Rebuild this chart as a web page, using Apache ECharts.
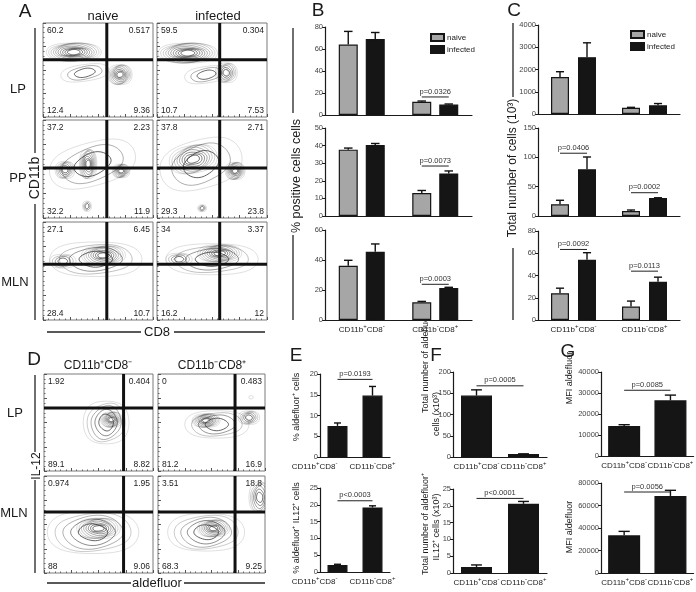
<!DOCTYPE html>
<html><head><meta charset="utf-8">
<script src="https://cdn.jsdelivr.net/npm/echarts@6/dist/echarts.min.js"></script>
<style>html,body{margin:0;padding:0;background:#fff}#c{width:696px;height:592px}</style>
</head><body><div id="c"></div>
<script>
const FONT = '"Liberation Sans", Arial, sans-serif';
// ================= DATA =================
const groups = ['CD11b⁺CD8⁻', 'CD11b⁻CD8⁺'];
const seriesNames = ['naive', 'infected'];
// Panel B: % positive cells (mean, SEM)
const bLP_naive = [64, 12],    bLP_naiveSem = [12, 0.7],  bLP_inf = [69, 9.5],    bLP_infSem = [6, 0.5];
const bPP_naive = [37.7, 13],  bPP_naiveSem = [0.9, 1.5], bPP_inf = [40.3, 24.2], bPP_infSem = [0.9, 1.4];
const bMLN_naive = [36.2, 11.8], bMLN_naiveSem = [3.6, 0.6], bMLN_inf = [45.5, 21.3], bMLN_infSem = [5.2, 0.5];
// Panel C: total number of cells (10^3)
const cLP_naive = [1660, 280], cLP_naiveSem = [240, 20], cLP_inf = [2550, 390], cLP_infSem = [650, 80];
const cPP_naive = [20, 8.5],   cPP_naiveSem = [6.8, 1.7], cPP_inf = [79.6, 30.5], cPP_infSem = [21, 0.6];
const cMLN_naive = [24.1, 12.2], cMLN_naiveSem = [4.5, 4.8], cMLN_inf = [54.2, 34.4], cMLN_infSem = [6.3, 4.1];
// Panel E: % aldefluor+ cells
const eAld = [7.5, 14.8],  eAldSem = [0.7, 2.2];
const eAldIL12 = [2.1, 19.2], eAldIL12Sem = [0.2, 0.5];
// Panel F: total number of aldefluor+ cells (x10^3)
const fAld = [144.5, 7], fAldSem = [13.5, 0.5];
const fAldIL12 = [1.8, 20.6], fAldIL12Sem = [0.6, 0.7];
// Panel G: MFI aldefluor
const gLP = [14300, 26500], gLPSem = [600, 2500];
const gMLN = [33500, 68500], gMLNSem = [3500, 5000];
// p-value annotations: [category, y-value]
const pB_LP = [[1, 16.4]], pB_LPText = ['p=0.0326'];
const pB_PP = [[1, 28.4]], pB_PPText = ['p=0.0073'];
const pB_MLN = [[1, 23.8]], pB_MLNText = ['p=0.0003'];
const pC_PP = [[0, 107], [1, 39.7]], pC_PPText = ['p=0.0406', 'p=0.0002'];
const pC_MLN = [[0, 63.4], [1, 43.9]], pC_MLNText = ['p=0.0092', 'p=0.0113'];
const pE = [18.7], pEText = ['p=0.0193'];
const pE2 = [21.2], pE2Text = ['p<0.0003'];
const pF = [167.5], pFText = ['p=0.0005'];
const pF2 = [22.2], pF2Text = ['p<0.0001'];
const pG = [31300], pGText = ['p=0.0085'];
const pG2 = [72000], pG2Text = ['p=0.0056'];
// Flow plots (axis 0-100): quadrant percentages [TL, TR, BL, BR]
const flowA_num = [
  ['60.2', '0.517', '12.4', '9.36'], ['59.5', '0.304', '10.7', '7.53'],
  ['37.2', '2.23', '32.2', '11.9'],  ['37.8', '2.71', '29.3', '23.8'],
  ['27.1', '6.45', '28.4', '10.7'],  ['34', '3.37', '16.2', '12']
];
const flowA_gateX = [58, 57];
const flowA_gateY = [61, 51, 57];
const flowD_num = [
  ['1.92', '0.404', '89.1', '8.82'], ['0', '0.483', '81.2', '16.9'],
  ['0.974', '1.95', '88', '9.06'],   ['3.51', '18.8', '68.3', '9.25']
];
const flowD_gateX = [73, 72];
const flowD_gateY = [65, 63];
// populations: [cx, cy, rx, ry, rings, angle]
const flowA_pop = [
  [[28, 69, 25, 11, 10, 0], [38, 47, 22, 10, 3, -8], [70, 45, 11, 12, 8, 0]],
  [[28, 68, 27, 12, 10, 0], [45, 45, 20, 10, 3, -8], [63, 47, 10, 12, 6, 0]],
  [[45, 55, 40, 25, 3, -15], [41, 55, 8, 17, 8, 0], [20, 49, 9, 10, 6, 0], [71, 48, 8, 8, 7, 0], [40, 12, 4, 6, 3, 0]],
  [[40, 55, 38, 28, 3, -15], [33, 60, 22, 16, 8, -10], [71, 48, 9, 10, 8, 0], [41, 10, 4, 4, 3, 0]],
  [[48, 62, 42, 20, 4, 0], [55, 66, 20, 11, 8, 0], [18, 60, 12, 8, 4, 0]],
  [[50, 62, 42, 18, 4, 0], [57, 68, 20, 10, 8, 0], [20, 62, 12, 7, 4, 0]]
];
const flowD_pop = [
  [[57, 50, 21, 25, 5, 0], [62, 53, 10, 9, 8, 0]],
  [[55, 48, 30, 16, 4, 0], [45, 52, 13, 8, 8, 0], [85, 55, 10, 8, 5, 0], [87, 76, 2, 2, 1, 0]],
  [[45, 42, 42, 25, 5, 0], [50, 46, 20, 12, 8, 0]],
  [[45, 42, 36, 22, 5, 0], [52, 46, 15, 10, 8, 0], [95, 78, 10, 18, 6, 0]]
];

// ================= BUILD =================
const option = { animation: false, backgroundColor: '#fff', textStyle: { fontFamily: FONT },
  grid: [], xAxis: [], yAxis: [], series: [], legend: [], graphic: [] };
const AX = '#1a1a1a';
const GRAY = '#a6a6a6';
const supFmt = v => v.replace(/([^⁺⁻]+)([⁺⁻])/g, (m, a, b) => '{b|' + a + '}{s|' + (b === '⁺' ? '+' : '-') + '}');

function barGrid(rect, max, interval, showLabels, lblSize, firstRight) {
  option.grid.push(Object.assign({}, rect));
  const gi = option.grid.length - 1;
  const fs = lblSize || 8;
  const cats = firstRight ? [{ value: groups[0], textStyle: { align: 'right' } }, groups[1]] : groups;
  option.xAxis.push({ gridIndex: gi, type: 'category', data: cats,
    axisLine: { lineStyle: { color: AX, width: 1.2 } },
    axisTick: { alignWithLabel: true, length: 3, lineStyle: { color: AX, width: 1.2 } },
    axisLabel: { show: showLabels, color: '#222', margin: 3, interval: 0, formatter: supFmt,
      rich: { b: { fontSize: fs, fontFamily: FONT, color: '#222', lineHeight: 11, verticalAlign: 'bottom' },
              s: { fontSize: fs - 2, fontFamily: FONT, color: '#222', lineHeight: 11, verticalAlign: 'top' } } } });
  option.yAxis.push({ gridIndex: gi, type: 'value', min: 0, max: max, interval: interval,
    axisLine: { show: true, lineStyle: { color: AX, width: 1.2 } },
    axisTick: { show: true, length: 3, lineStyle: { color: AX, width: 1 } },
    splitLine: { show: false },
    axisLabel: { fontSize: 7.5, color: '#444', margin: 2, fontFamily: FONT, formatter: v => String(v) } });
  return gi;
}
function bars(gi, name, vals, w, gap, color) {
  option.series.push({ type: 'bar', name: name, xAxisIndex: gi, yAxisIndex: gi, data: vals,
    barWidth: w, barGap: gap, z: 2,
    itemStyle: { color: color, borderColor: '#151515', borderWidth: 1.2 } });
}
function errs(gi, vals, sems, off, cap) {
  option.series.push({ type: 'custom', xAxisIndex: gi, yAxisIndex: gi, z: 3, silent: true,
    data: vals.map((v, i) => [i, v, v + sems[i]]),
    renderItem: (p, api) => {
      const a = api.coord([api.value(0), api.value(1)]);
      const b = api.coord([api.value(0), api.value(2)]);
      const x = a[0] + off;
      return { type: 'group', children: [
        { type: 'line', shape: { x1: x, y1: a[1], x2: x, y2: b[1] }, style: { stroke: '#111', lineWidth: 1.4 } },
        { type: 'line', shape: { x1: x - cap / 2, y1: b[1], x2: x + cap / 2, y2: b[1] }, style: { stroke: '#111', lineWidth: 1.4 } }
      ] };
    } });
}
function pAnn(gi, items, texts, mode, half) {
  option.series.push({ type: 'custom', xAxisIndex: gi, yAxisIndex: gi, z: 4, silent: true, clip: false,
    data: items.map(it => mode === 'within' ? [it[0], it[1]] : [0.5, it]),
    renderItem: (p, api) => {
      let x1, x2, y;
      if (mode === 'within') {
        const c = api.coord([api.value(0), api.value(1)]);
        x1 = c[0] - half; x2 = c[0] + half; y = c[1];
      } else {
        const c0 = api.coord([0, api.value(1)]);
        const c1 = api.coord([1, api.value(1)]);
        x1 = c0[0]; x2 = c1[0]; y = c0[1];
      }
      return { type: 'group', children: [
        { type: 'line', shape: { x1: x1, y1: y, x2: x2, y2: y }, style: { stroke: '#222', lineWidth: 1 } },
        { type: 'text', x: (x1 + x2) / 2, y: y - 1.5, style: { text: texts[p.dataIndex], fill: '#333',
          font: '7.5px ' + FONT, align: 'center', verticalAlign: 'bottom' } }
      ] };
    } });
}
function grouped(rect, max, interval, showLabels, n, nS, inf, iS, w, gapPx, pItems, pTexts) {
  const gi = barGrid(rect, max, interval, showLabels);
  bars(gi, 'naive', n, w, (gapPx / w * 100) + '%', GRAY);
  bars(gi, 'infected', inf, w, (gapPx / w * 100) + '%', '#151515');
  const off = (w + gapPx) / 2;
  errs(gi, n, nS, -off, w * 0.45);
  errs(gi, inf, iS, off, w * 0.45);
  if (pItems) pAnn(gi, pItems, pTexts, 'within', off);
}
function single(rect, max, interval, vals, sems, w, pY, pT, lblSize, firstRight) {
  const gi = barGrid(rect, max, interval, true, lblSize, firstRight);
  bars(gi, 'single', vals, w, '0%', '#151515');
  errs(gi, vals, sems, 0, w * 0.35);
  pAnn(gi, pY, pT, 'across', 0);
}

// Panel B
grouped({ left: 325, top: 27, width: 147, height: 88 }, 80, 20, false, bLP_naive, bLP_naiveSem, bLP_inf, bLP_infSem, 19, 8, pB_LP, pB_LPText);
grouped({ left: 325, top: 128, width: 147, height: 88 }, 50, 10, false, bPP_naive, bPP_naiveSem, bPP_inf, bPP_infSem, 19, 8, pB_PP, pB_PPText);
grouped({ left: 325, top: 230, width: 147, height: 90 }, 60, 20, true, bMLN_naive, bMLN_naiveSem, bMLN_inf, bMLN_infSem, 19, 8, pB_MLN, pB_MLNText);
// Panel C
grouped({ left: 538, top: 25, width: 142, height: 89 }, 4000, 1000, false, cLP_naive, cLP_naiveSem, cLP_inf, cLP_infSem, 18, 9, null, null);
grouped({ left: 538, top: 128, width: 142, height: 88 }, 150, 50, false, cPP_naive, cPP_naiveSem, cPP_inf, cPP_infSem, 18, 9, pC_PP, pC_PPText);
grouped({ left: 538, top: 231, width: 142, height: 89 }, 80, 20, true, cMLN_naive, cMLN_naiveSem, cMLN_inf, cMLN_infSem, 18, 9, pC_MLN, pC_MLNText);
// Panels E, F, G
single({ left: 320, top: 374, width: 70, height: 83 }, 20, 5, eAld, eAldSem, 20, pE, pEText, 8, true);
single({ left: 320, top: 488, width: 70, height: 84 }, 25, 5, eAldIL12, eAldIL12Sem, 20, pE2, pE2Text, 8, true);
single({ left: 453, top: 372, width: 94, height: 85 }, 200, 50, fAld, fAldSem, 31, pF, pFText);
single({ left: 453, top: 489, width: 94, height: 84 }, 25, 5, fAldIL12, fAldIL12Sem, 31, pF2, pF2Text);
single({ left: 601, top: 372, width: 94, height: 84 }, 40000, 10000, gLP, gLPSem, 32, pG, pGText);
single({ left: 601, top: 483, width: 94, height: 90 }, 80000, 20000, gMLN, gMLNSem, 32, pG2, pG2Text);

// Legends
[[425, 28], [625, 25]].forEach(pos => option.legend.push({ data: seriesNames, left: pos[0], top: pos[1],
  orient: 'vertical', itemWidth: 13, itemHeight: 7, itemGap: 3, selectedMode: false, icon: 'rect',
  textStyle: { fontSize: 8, color: '#222', fontFamily: FONT, padding: [0, 0, 0, -2] } }));

// Flow plots
function flowPlot(rect, pops, nums, gx, gy) {
  option.grid.push(Object.assign({ show: true, borderColor: '#7a7a7a', borderWidth: 1 }, rect));
  const gi = option.grid.length - 1;
  const ax = { gridIndex: gi, type: 'value', min: 0, max: 100, interval: 25,
    axisLine: { show: false }, axisLabel: { show: false }, splitLine: { show: false },
    axisTick: { show: true, inside: true, length: 3, lineStyle: { color: '#555' } },
    minorTick: { show: true, splitNumber: 5, length: 1.5, lineStyle: { color: '#666' } } };
  option.xAxis.push(Object.assign({}, ax));
  option.yAxis.push(Object.assign({}, ax));
  option.series.push({ type: 'custom', xAxisIndex: gi, yAxisIndex: gi, silent: true, clip: true,
    data: [[gx, gy]],
    renderItem: (params, api) => {
      const ch = [];
      pops.forEach(p => {
        const c = api.coord([p[0], p[1]]);
        const s = api.size([p[2], p[3]]);
        const a = p[5] * Math.PI / 180, n = p[4];
        for (let k = 0; k < n; k++) {
          const f = 1 - k / n * 0.85;
          const pts = [];
          for (let t = 0; t < 40; t++) {
            const th = t / 40 * 2 * Math.PI;
            const ex = s[0] * f * Math.cos(th), ey = s[1] * f * Math.sin(th) * (1 + 0.12 * Math.cos(2 * th + k));
            pts.push([c[0] + ex * Math.cos(a) - ey * Math.sin(a), c[1] + ex * Math.sin(a) + ey * Math.cos(a)]);
          }
          const d = n > 1 ? k / (n - 1) : 0;
          ch.push({ type: 'polygon', shape: { points: pts },
            style: { fill: 'none', stroke: 'rgba(50,50,50,' + (0.3 + 0.45 * d) + ')', lineWidth: 0.5 + 0.5 * d } });
        }
      });
      const g0 = api.coord([api.value(0), 0]), g1 = api.coord([api.value(0), 100]);
      const h0 = api.coord([0, api.value(1)]), h1 = api.coord([100, api.value(1)]);
      ch.push({ type: 'line', shape: { x1: g0[0], y1: g0[1], x2: g1[0], y2: g1[1] }, style: { stroke: '#111', lineWidth: 3 } });
      ch.push({ type: 'line', shape: { x1: h0[0], y1: h0[1], x2: h1[0], y2: h1[1] }, style: { stroke: '#111', lineWidth: 3 } });
      const tl = api.coord([0, 100]), br = api.coord([100, 0]);
      const fnt = '8.5px ' + FONT;
      const T = (t, x, y, al, va) => ch.push({ type: 'text', x: x, y: y, style: { text: t, fill: '#222', font: fnt, align: al, verticalAlign: va } });
      T(nums[0], tl[0] + 4, tl[1] + 3, 'left', 'top');
      T(nums[1], br[0] - 3, tl[1] + 3, 'right', 'top');
      T(nums[2], tl[0] + 4, br[1] - 2, 'left', 'bottom');
      T(nums[3], br[0] - 3, br[1] - 2, 'right', 'bottom');
      return { type: 'group', children: ch };
    } });
}
const aCols = [43, 157], aRows = [[23, 94], [120, 98], [222, 98]];
aRows.forEach((r, ri) => aCols.forEach((cx, ci) => {
  const k = ri * 2 + ci;
  flowPlot({ left: cx, top: r[0], width: 110, height: r[1] }, flowA_pop[k], flowA_num[k], flowA_gateX[ci], flowA_gateY[ri]);
}));
const dCols = [[44, 109], [158, 107]], dRows = [374, 476];
dRows.forEach((top, ri) => dCols.forEach((c, ci) => {
  const k = ri * 2 + ci;
  flowPlot({ left: c[0], top: top, width: c[1], height: 97 }, flowD_pop[k], flowD_num[k], flowD_gateX[ci], flowD_gateY[ri]);
}));

// Texts and decorative lines
const G = option.graphic;
function txt(t, x, y, size, opts) {
  G.push(Object.assign({ type: 'text', x: x, y: y, silent: true,
    style: { text: t, font: size + 'px ' + FONT, fill: '#1a1a1a', align: 'center', verticalAlign: 'middle' } }, opts || {}));
}
function vtxt(t, x, y, size) { txt(t, x, y, size, { rotation: Math.PI / 2 }); }
function seg(x1, y1, x2, y2) {
  G.push({ type: 'line', silent: true, shape: { x1: x1, y1: y1, x2: x2, y2: y2 }, style: { stroke: '#222', lineWidth: 1.3 } });
}
// panel letters
txt('A', 25, 12, 19); txt('B', 318, 11, 19); txt('C', 514, 11, 19);
txt('D', 34, 360, 19); txt('E', 296, 356, 19); txt('F', 436, 356, 19); txt('G', 568, 352, 19);
// Panel A labels
txt('naive', 103, 16, 13); txt('infected', 218, 16, 13);
txt('LP', 18, 89, 13); txt('PP', 18, 178, 13); txt('MLN', 15, 282, 13);
vtxt('CD11b', 35, 178, 14);
seg(35, 28, 35, 153); seg(35, 204, 35, 320);
txt('CD8', 157, 332, 13); seg(47, 332, 141, 332); seg(174, 332, 265, 332);
// Panel D labels
txt('CD11b⁺CD8⁻', 98, 366, 12); txt('CD11b⁻CD8⁺', 212, 366, 12);
txt('LP', 15, 413, 13); txt('MLN', 14, 513, 13);
vtxt('IL-12', 37, 466, 12);
seg(35, 375, 35, 452); seg(35, 480, 35, 573);
txt('aldefluor', 157, 583, 13); seg(47, 583, 131, 583); seg(184, 583, 265, 583);
// B/C y labels
vtxt('% positive cells cells', 297, 176, 12.5);
seg(293, 28, 293, 113); seg(293, 235, 293, 320);
vtxt('Total number of cells (10³)', 513, 168, 12);
seg(513, 23, 513, 97); seg(513, 248, 513, 320);
// E/F/G y labels
vtxt('% aldefluor⁺ cells', 297, 407, 9);
vtxt('% aldefluor⁺ IL12⁺ cells', 297, 528, 9);
vtxt('Total number of aldefluor⁺', 426, 362, 9);
vtxt('cells (x10³)', 437, 414, 9);
vtxt('Total number of aldefluor⁺', 426, 524, 9);
vtxt('IL12⁺ cells (x10³)', 437, 527, 9);
vtxt('MFI aldefluor', 570, 378, 9);
vtxt('MFI aldefluor', 570, 527, 9);

const chart = echarts.init(document.getElementById('c'), null, { renderer: 'canvas' });
chart.setOption(option);
</script></body></html>
